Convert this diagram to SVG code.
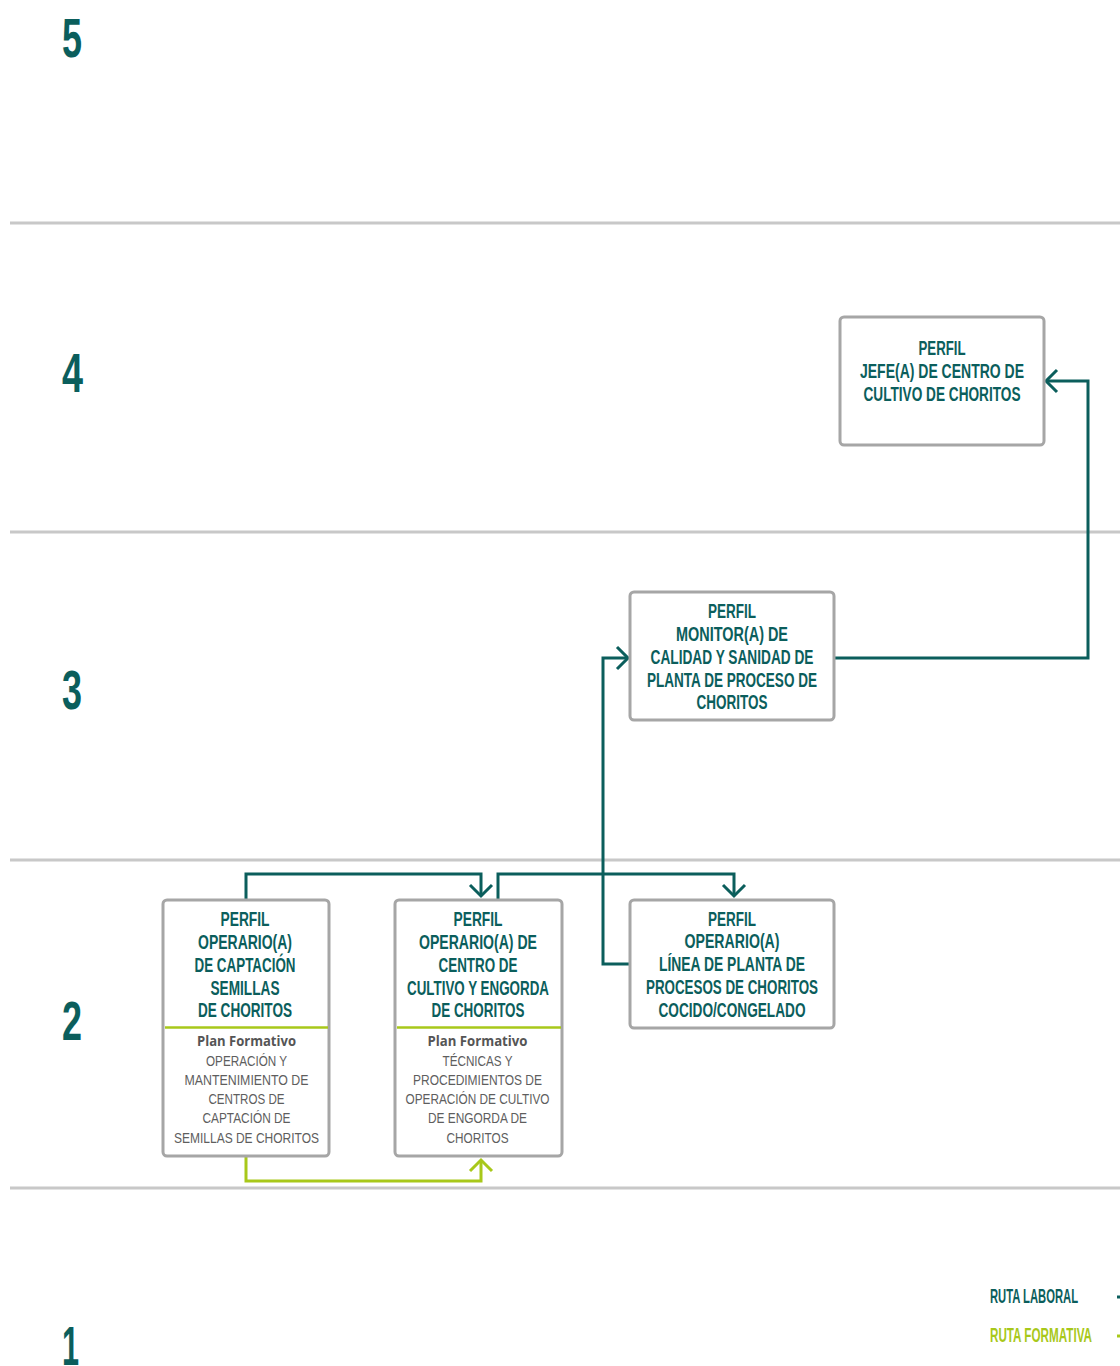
<svg xmlns="http://www.w3.org/2000/svg" width="1120" height="1366" viewBox="0 0 1120 1366">
<style>
.sep{stroke:#c8c8c8;stroke-width:3;fill:none}
.box{fill:#fff;stroke:#a6a6a6;stroke-width:3}
.lvl{font-family:"Liberation Sans Narrow","Liberation Sans","DejaVu Sans Condensed",sans-serif;font-weight:bold;font-size:56px;fill:#0b5e5c}
.t{font-family:"Liberation Sans Narrow","Liberation Sans","DejaVu Sans Condensed",sans-serif;font-weight:bold;font-size:21px;fill:#0b5e5c;text-anchor:middle}
.pf{font-family:"Open Sans","Liberation Sans",sans-serif;font-weight:bold;font-size:14px;fill:#555;text-anchor:middle}
.b{font-family:"Liberation Sans Narrow","Liberation Sans",sans-serif;font-size:14.5px;fill:#5e5e5e;text-anchor:middle}
.lab{stroke:#0b5e5c;stroke-width:3;fill:none}
.form{stroke:#a8c81a;stroke-width:3;fill:none}
.div{stroke:#a8c81a;stroke-width:2.5}
.leg{font-family:"Liberation Sans Narrow","Liberation Sans",sans-serif;font-weight:bold;font-size:20px}
</style>
<rect width="1120" height="1366" fill="#fff"/>
<g id="separators">
<line class="sep" x1="10" y1="223" x2="1120" y2="223"/>
<line class="sep" x1="10" y1="532" x2="1120" y2="532"/>
<line class="sep" x1="10" y1="860" x2="1120" y2="860"/>
<line class="sep" x1="10" y1="1188" x2="1120" y2="1188"/>
</g>
<g id="levels">
<text class="lvl" x="62" y="57" textLength="20" lengthAdjust="spacingAndGlyphs">5</text>
<text class="lvl" x="62" y="392" textLength="21" lengthAdjust="spacingAndGlyphs">4</text>
<text class="lvl" x="62" y="709" textLength="20" lengthAdjust="spacingAndGlyphs">3</text>
<text class="lvl" x="62" y="1040" textLength="20" lengthAdjust="spacingAndGlyphs">2</text>
<text class="lvl" x="62" y="1365" textLength="17" lengthAdjust="spacingAndGlyphs">1</text>
</g>
<g id="connectors">
<path class="lab" d="M246 900 V874 H481 V896"/>
<path class="lab" d="M470 885 L481 896 L492 885"/>
<path class="lab" d="M498 900 V874 H734 V896"/>
<path class="lab" d="M723 885 L734 896 L745 885"/>
<path class="lab" d="M630 964 H603 V658 H628"/>
<path class="lab" d="M617 647 L628 658 L617 669"/>
<path class="lab" d="M834 658 H1088 V381 H1046"/>
<path class="lab" d="M1057 370 L1046 381 L1057 392"/>
<path class="form" d="M246 1156 V1181 H481 V1160"/>
<path class="form" d="M470 1171 L481 1160 L492 1171"/>
</g>
<g id="node-jefe">
<rect class="box" x="840" y="317" width="204" height="128" rx="4"/>
<text class="t" x="942" y="355" textLength="47" lengthAdjust="spacingAndGlyphs">PERFIL</text>
<text class="t" x="942" y="378" textLength="164" lengthAdjust="spacingAndGlyphs">JEFE(A) DE CENTRO DE</text>
<text class="t" x="942" y="401" textLength="157" lengthAdjust="spacingAndGlyphs">CULTIVO DE CHORITOS</text>
</g>
<g id="node-monitor">
<rect class="box" x="630" y="592" width="204" height="128" rx="4"/>
<text class="t" x="732" y="618" textLength="48" lengthAdjust="spacingAndGlyphs">PERFIL</text>
<text class="t" x="732" y="641" textLength="112" lengthAdjust="spacingAndGlyphs">MONITOR(A) DE</text>
<text class="t" x="732" y="664" textLength="163" lengthAdjust="spacingAndGlyphs">CALIDAD Y SANIDAD DE</text>
<text class="t" x="732" y="687" textLength="170" lengthAdjust="spacingAndGlyphs">PLANTA DE PROCESO DE</text>
<text class="t" x="732" y="709" textLength="71" lengthAdjust="spacingAndGlyphs">CHORITOS</text>
</g>
<g id="node-linea">
<rect class="box" x="630" y="900" width="204" height="128" rx="4"/>
<text class="t" x="732" y="926" textLength="48" lengthAdjust="spacingAndGlyphs">PERFIL</text>
<text class="t" x="732" y="948" textLength="95" lengthAdjust="spacingAndGlyphs">OPERARIO(A)</text>
<text class="t" x="732" y="971" textLength="146" lengthAdjust="spacingAndGlyphs">LÍNEA DE PLANTA DE</text>
<text class="t" x="732" y="994" textLength="172" lengthAdjust="spacingAndGlyphs">PROCESOS DE CHORITOS</text>
<text class="t" x="732" y="1017" textLength="147" lengthAdjust="spacingAndGlyphs">COCIDO/CONGELADO</text>
</g>
<g id="node-captacion">
<rect class="box" x="163" y="900" width="166" height="256" rx="4"/>
<text class="t" x="245" y="926" textLength="49" lengthAdjust="spacingAndGlyphs">PERFIL</text>
<text class="t" x="245" y="949" textLength="94" lengthAdjust="spacingAndGlyphs">OPERARIO(A)</text>
<text class="t" x="245" y="972" textLength="101" lengthAdjust="spacingAndGlyphs">DE CAPTACIÓN</text>
<text class="t" x="245" y="995" textLength="69" lengthAdjust="spacingAndGlyphs">SEMILLAS</text>
<text class="t" x="245" y="1017" textLength="94" lengthAdjust="spacingAndGlyphs">DE CHORITOS</text>
<line class="div" x1="165" y1="1027.5" x2="328" y2="1027.5"/>
<text class="pf" x="246.5" y="1046" textLength="99" lengthAdjust="spacingAndGlyphs">Plan Formativo</text>
<text class="b" x="246.5" y="1066" textLength="81" lengthAdjust="spacingAndGlyphs">OPERACIÓN Y</text>
<text class="b" x="246.5" y="1085" textLength="124" lengthAdjust="spacingAndGlyphs">MANTENIMIENTO DE</text>
<text class="b" x="246.5" y="1104" textLength="76" lengthAdjust="spacingAndGlyphs">CENTROS DE</text>
<text class="b" x="246.5" y="1123" textLength="88" lengthAdjust="spacingAndGlyphs">CAPTACIÓN DE</text>
<text class="b" x="246.5" y="1143" textLength="145" lengthAdjust="spacingAndGlyphs">SEMILLAS DE CHORITOS</text>
</g>
<g id="node-centro">
<rect class="box" x="395" y="900" width="167" height="256" rx="4"/>
<text class="t" x="478" y="926" textLength="49" lengthAdjust="spacingAndGlyphs">PERFIL</text>
<text class="t" x="478" y="949" textLength="118" lengthAdjust="spacingAndGlyphs">OPERARIO(A) DE</text>
<text class="t" x="478" y="972" textLength="79" lengthAdjust="spacingAndGlyphs">CENTRO DE</text>
<text class="t" x="478" y="995" textLength="142" lengthAdjust="spacingAndGlyphs">CULTIVO Y ENGORDA</text>
<text class="t" x="478" y="1017" textLength="93" lengthAdjust="spacingAndGlyphs">DE CHORITOS</text>
<line class="div" x1="397" y1="1027.5" x2="561" y2="1027.5"/>
<text class="pf" x="477.5" y="1046" textLength="100" lengthAdjust="spacingAndGlyphs">Plan Formativo</text>
<text class="b" x="477.5" y="1066" textLength="70" lengthAdjust="spacingAndGlyphs">TÉCNICAS Y</text>
<text class="b" x="477.5" y="1085" textLength="129" lengthAdjust="spacingAndGlyphs">PROCEDIMIENTOS DE</text>
<text class="b" x="477.5" y="1104" textLength="144" lengthAdjust="spacingAndGlyphs">OPERACIÓN DE CULTIVO</text>
<text class="b" x="477.5" y="1123" textLength="99" lengthAdjust="spacingAndGlyphs">DE ENGORDA DE</text>
<text class="b" x="477.5" y="1143" textLength="62" lengthAdjust="spacingAndGlyphs">CHORITOS</text>
</g>
<g id="legend">
<text class="leg" x="990" y="1303" fill="#0b5e5c" textLength="88" lengthAdjust="spacingAndGlyphs">RUTA LABORAL</text>
<line x1="1117" y1="1297" x2="1120" y2="1297" stroke="#0b5e5c" stroke-width="3"/>
<text class="leg" x="990" y="1342" fill="#a8c81a" textLength="102" lengthAdjust="spacingAndGlyphs">RUTA FORMATIVA</text>
<line x1="1117" y1="1336" x2="1120" y2="1336" stroke="#a8c81a" stroke-width="3"/>
</g>
</svg>
